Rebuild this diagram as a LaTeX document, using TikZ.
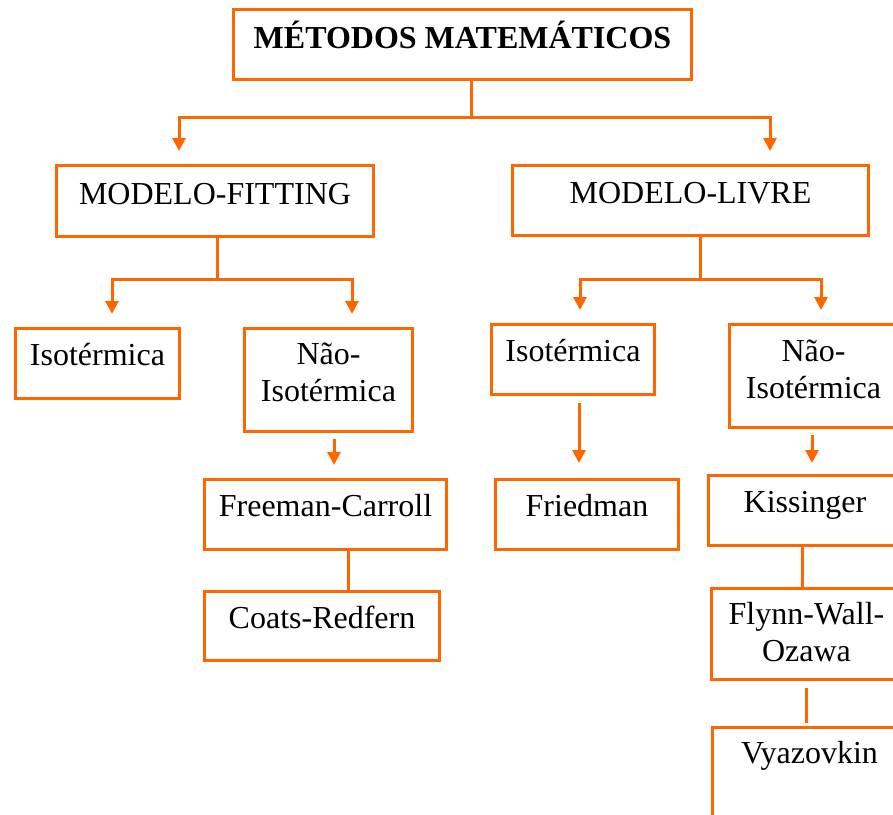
\documentclass[tikz,border=0pt]{standalone}
\usepackage{fontspec}
\setmainfont{Liberation Serif}
\usetikzlibrary{arrows.meta, positioning}
\definecolor{laranja}{RGB}{255,102,0}
\tikzstyle{methodbox} = [rectangle, draw=laranja, line width=1.5pt, anchor=north west, inner xsep=0pt, inner ysep=0pt, text centered, text height=18.5pt, text depth=16.5pt, font=\fontsize{16}{18.5}\selectfont]
\tikzstyle{twoline} = [methodbox, align=center, text height=36.5pt, text depth=15pt]
\tikzstyle{headbox} = [methodbox, font=\fontsize{16}{18.5}\selectfont\bfseries, text height=19.5pt, text depth=15.5pt]
\tikzstyle{link} = [draw=laranja, line width=1.5pt]
\tikzstyle{arrow} = [link, -{Triangle[width=6.5pt,length=6.5pt]}, shorten >=6.5pt]

\begin{document}
\begin{tikzpicture}[x=0.5pt, y=-0.5pt]
\useasboundingbox (0,0) rectangle (893,814);
\clip (0,0) rectangle (893,814);

\node (head) [headbox, minimum width=229pt] at (232,8) {MÉTODOS MATEMÁTICOS};

\node (fitting) [methodbox, minimum width=158.5pt, text height=19.5pt, text depth=16pt] at (55,164) {MODELO-FITTING};
\node (livre) [methodbox, minimum width=178pt, text height=19pt, text depth=16pt] at (511,164) {MODELO-LIVRE};

% ramo modelo-fitting
\node (isoA) [methodbox, minimum width=82pt] at (14,327) {Isotérmica};
\node (naoA) [twoline, minimum width=84pt] at (243,327) {Não-\\Isotérmica};
\node (freeman) [methodbox, minimum width=121pt] at (203,478) {Freeman-Carroll};
\node (coats) [methodbox, minimum width=117.5pt, text depth=16pt] at (203,590) {Coats-Redfern};

% ramo modelo-livre
\node (isoB) [methodbox, minimum width=81.5pt] at (490,323) {Isotérmica};
\node (naoB) [twoline, minimum width=84pt, text height=37pt, text depth=14.5pt] at (728,323) {Não-\\Isotérmica};
\node (friedman) [methodbox, minimum width=91.5pt] at (494,478) {Friedman};
\node (kissinger) [methodbox, minimum width=96.5pt] at (707,474) {Kissinger};
\node (flynn) [twoline, minimum width=95pt, text depth=9pt] at (710,587) {Flynn-Wall-\\Ozawa};
\node (vyazovkin) [methodbox, minimum width=97pt, text height=18pt, text depth=35pt] at (711,726) {Vyazovkin};

% ligacoes
\coordinate (j0) at (471,117);
\coordinate (j1) at (217,279);
\coordinate (j2) at (700,279);

\draw [link] (j0 |- head.south) -- (j0);
\draw [arrow] (j0) -| (179,0 |- fitting.north);
\draw [arrow] (j0) -| (770,0 |- livre.north);

\draw [link] (j1 |- fitting.south) -- (j1);
\draw [arrow] (j1) -| (112,0 |- isoA.north);
\draw [arrow] (j1) -| (352,0 |- naoA.north);

\draw [link] (j2 |- livre.south) -- (j2);
\draw [arrow] (j2) -| (580,0 |- isoB.north);
\draw [arrow] (j2) -| (821,0 |- naoB.north);

\draw [arrow, shorten <=3pt] (334,0 |- naoA.south) -- (334,0 |- freeman.north);
\draw [link] (348,0 |- freeman.south) -- (348,0 |- coats.north);

\draw [arrow, shorten <=3.5pt, shorten >=7.5pt] (579,0 |- isoB.south) -- (579,0 |- friedman.north);
\draw [arrow, shorten <=3pt, shorten >=5.5pt] (812,0 |- naoB.south) -- (812,0 |- kissinger.north);
\draw [link] (802,0 |- kissinger.south) -- (802,0 |- flynn.north);
\draw [link, shorten <=3.5pt, shorten >=1.5pt] (806,0 |- flynn.south) -- (806,0 |- vyazovkin.north);
\end{tikzpicture}
\end{document}
